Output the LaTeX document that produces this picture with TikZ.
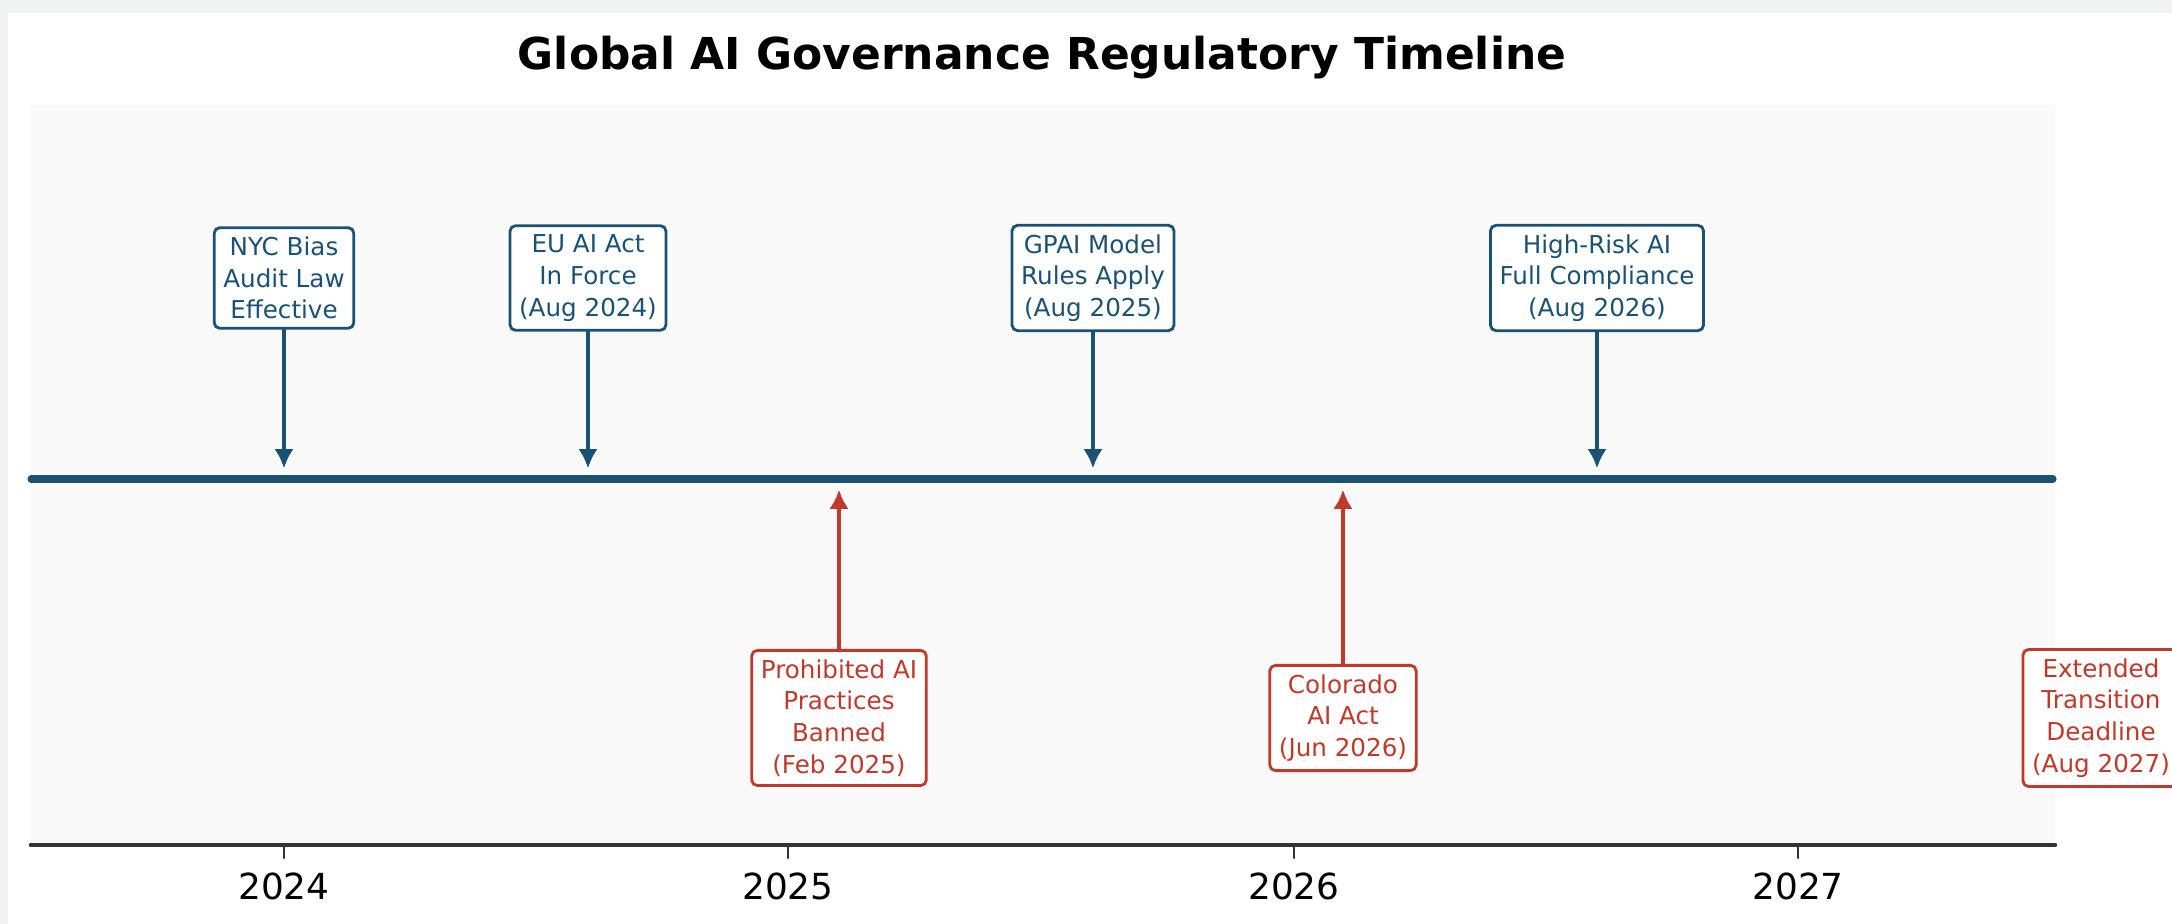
\documentclass[tikz,border=0pt]{standalone}
\usepackage{fontspec}
\setmainfont{DejaVu Sans}
\usetikzlibrary{arrows.meta}
\definecolor{upblue}{HTML}{1A5276}
\definecolor{downred}{HTML}{C0392B}
\definecolor{panelgray}{HTML}{F9F9F9}
\definecolor{edgegray}{HTML}{F1F2F2}
\begin{document}
\begin{tikzpicture}[x=0.01cm,y=0.01cm,line cap=round,line join=round,
    event/.style={draw,rounded corners=1.6pt,fill=white,line width=0.8pt,
      align=center,inner sep=2.6pt,font=\fontsize{7}{9}\selectfont},
    upevent/.style={event,draw=upblue,text=upblue},
    downevent/.style={event,draw=downred,text=downred},
    pointer/.style={line width=1.1pt,-{Latex[length=5.5pt,width=5.5pt]},shorten >=3pt},
    yearlabel/.style={font=\fontsize{10.2}{12}\selectfont}]
  \useasboundingbox (0,0) rectangle (2172,924);
  \clip (0,0) rectangle (2172,924);
  \fill[white] (0,0) rectangle (2172,924);
  \fill[edgegray] (0,911) rectangle (2172,924);
  \fill[edgegray] (0,0) rectangle (8,924);
  \fill[panelgray] (31,79) rectangle (2055,819);

  \node[font=\bfseries\fontsize{12.5}{15}\selectfont] (title) at (1042,866)
    {Global AI Governance Regulatory Timeline};

  % the time line
  \coordinate (lineL) at (31,445);
  \coordinate (lineR) at (2053,445);
  \draw[upblue,line width=2pt] (lineL) -- (lineR);

  % year axis
  \coordinate (axisL) at (31,79);
  \coordinate (axisR) at (2055,79);
  \draw[black!80,line width=1.3pt] (axisL) -- (axisR);
  \draw[black!80,line width=0.8pt] (284,79) -- (284,66);
  \draw[black!80,line width=0.8pt] (788,79) -- (788,66);
  \draw[black!80,line width=0.8pt] (1294,79) -- (1294,66);
  \draw[black!80,line width=0.8pt] (1798,79) -- (1798,66);
  \node[yearlabel] (y2024) at (284,38) {2024};
  \node[yearlabel] (y2025) at (788,38) {2025};
  \node[yearlabel] (y2026) at (1294,38) {2026};
  \node[yearlabel] (y2027) at (1798,38) {2027};

  % events above the line
  \node[upevent] (nyc) at (284,646) {NYC Bias\\Audit Law\\Effective};
  \node[upevent] (euact) at (588,646) {EU AI Act\\In Force\\(Aug 2024)};
  \node[upevent] (gpai) at (1093,646) {GPAI Model\\Rules Apply\\(Aug 2025)};
  \node[upevent] (highrisk) at (1597,646) {High-Risk AI\\Full Compliance\\(Aug 2026)};
  \coordinate (nycT) at (284,445);
  \coordinate (euactT) at (588,445);
  \coordinate (gpaiT) at (1093,445);
  \coordinate (highriskT) at (1597,445);
  \draw[pointer,upblue] (nyc) -- (nycT);
  \draw[pointer,upblue] (euact) -- (euactT);
  \draw[pointer,upblue] (gpai) -- (gpaiT);
  \draw[pointer,upblue] (highrisk) -- (highriskT);

  % events below the line
  \node[downevent] (prohibited) at (839,206) {Prohibited AI\\Practices\\Banned\\(Feb 2025)};
  \node[downevent] (colorado) at (1343,206) {Colorado\\AI Act\\(Jun 2026)};
  \node[downevent] (extended) at (2101,206) {Extended\\Transition\\Deadline\\(Aug 2027)};
  \coordinate (prohibitedT) at (839,445);
  \coordinate (coloradoT) at (1343,445);
  \draw[pointer,downred] (prohibited) -- (prohibitedT);
  \draw[pointer,downred] (colorado) -- (coloradoT);
\end{tikzpicture}
\end{document}
